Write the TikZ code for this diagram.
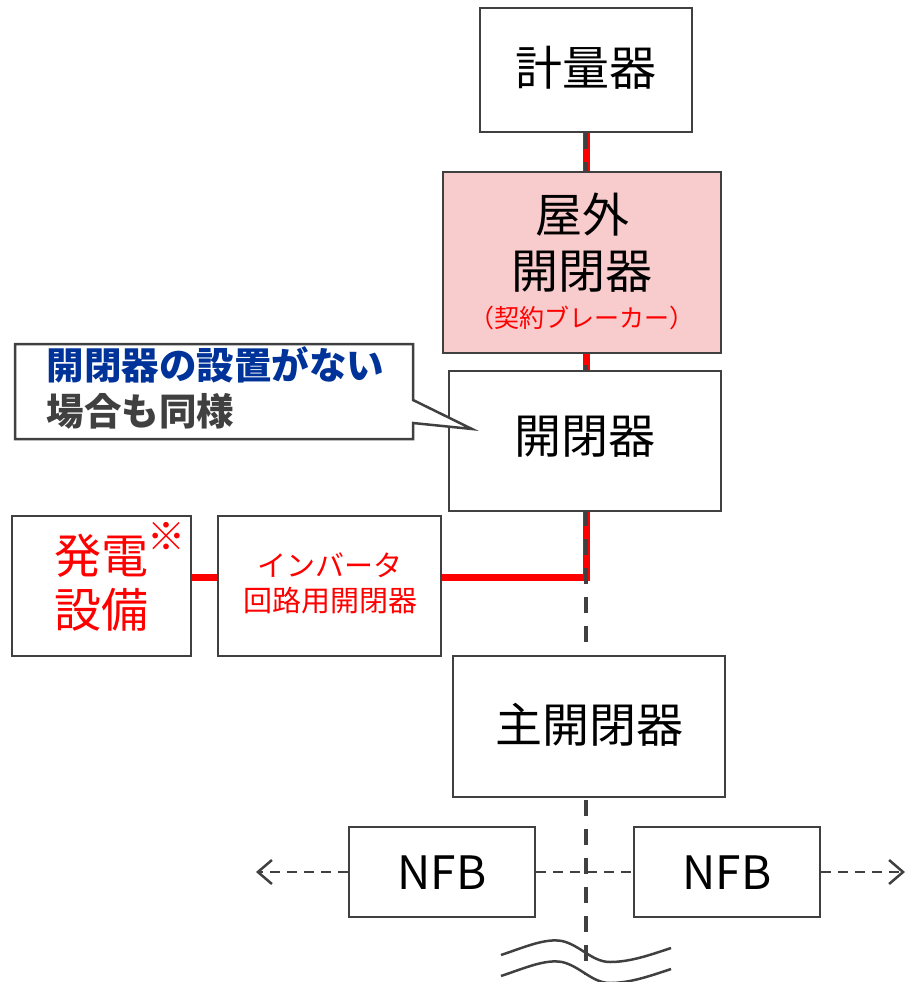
\documentclass[tikz,border=0pt]{standalone}
\usepackage{fontspec}
\setmainfont{Noto Sans CJK JP}
\usetikzlibrary{arrows.meta}
\definecolor{bord}{HTML}{404040}
\definecolor{pinkfill}{HTML}{F8CBCC}
\definecolor{cblue}{RGB}{0,51,153}
\definecolor{cred}{RGB}{255,0,0}
\pgfdeclarelayer{bg}
\pgfsetlayers{bg,main}
\tikzset{
  box/.style={draw=bord, line width=2.5pt, fill=white, rectangle, inner sep=0pt},
  bigtxt/.style={font=\fontsize{47}{56}\selectfont, text=black},
  redline/.style={draw=cred, line width=7pt},
  vdash/.style={draw=bord, line width=4pt, dash pattern=on 16pt off 13pt},
  hdash/.style={draw=bord, line width=2.8pt, dash pattern=on 10pt off 7pt},
  wave/.style={draw=bord, line width=2.5pt},
}
\begin{document}
\begin{tikzpicture}[x=1pt,y=-1pt]
\useasboundingbox (0,0) rectangle (907,982);
% boxes
\node[box, minimum width=212pt, minimum height=124pt] (meter) at (586,70) {};
\node[bigtxt] (meterT) at (586,68) {計量器};
\node[box, fill=pinkfill, minimum width=278pt, minimum height=181pt] (outdoor) at (582,262.5) {};
\node[bigtxt] (outT1) at (582,215) {屋外};
\node[bigtxt] (outT2) at (582,272) {開閉器};
\node[font=\fontsize{25}{30}\selectfont, text=cred] (outT3) at (582,318) {（契約ブレーカー）};
\node[box, minimum width=272pt, minimum height=140pt] (sw) at (585,441) {};
\node[bigtxt] (swT) at (585,437) {開閉器};
\node[box, minimum width=179pt, minimum height=140pt] (gen) at (101.5,586) {};
\node[font=\fontsize{47}{56}\selectfont, text=cred] (genT1) at (101,556) {発電};
\node[font=\fontsize{47}{56}\selectfont, text=cred] (genT2) at (101,610) {設備};
\node[font=\fontsize{38}{42}\selectfont\bfseries, text=cred] (genStar) at (166,536) {※};
\node[box, minimum width=223pt, minimum height=140pt] (inv) at (329.5,586) {};
\node[font=\fontsize{29}{34}\selectfont, text=cred] (invT1) at (330,565) {インバータ};
\node[font=\fontsize{29}{34}\selectfont, text=cred] (invT2) at (330,601) {回路用開閉器};
\node[box, minimum width=272pt, minimum height=141pt] (main) at (589,726.5) {};
\node[bigtxt] (mainT) at (589,725) {主開閉器};
\node[box, minimum width=186pt, minimum height=90pt] (nfbL) at (442,872) {};
\node[bigtxt, font=\fontsize{46}{54}\selectfont] (nfbLT) at (442,873) {NFB};
\node[box, minimum width=186pt, minimum height=90pt] (nfbR) at (727,872) {};
\node[bigtxt, font=\fontsize{46}{54}\selectfont] (nfbRT) at (727,873) {NFB};
% callout
\draw[draw=bord, line width=2.5pt, fill=white, line join=miter]
  (15,344) -- (413,344) -- (413,400) -- (472,429) -- (413,423) -- (413,439) -- (15,439) -- cycle;
\node[anchor=west, font=\fontsize{37.5}{44}\selectfont\bfseries, text=cblue] (callT1) at (43,365) {開閉器の設置がない};
\node[anchor=west, font=\fontsize{37.5}{44}\selectfont\bfseries, text=bord] (callT2) at (43,411) {場合も同様};
% coordinates
\coordinate (jn) at (586,577);
\coordinate (bot) at (586,975);
\coordinate (arrL) at (256,872);
\coordinate (arrR) at (905,872);
\begin{pgfonlayer}{bg}
  \fill[white] (0,0) rectangle (907,982);
  \draw[redline] (meter.south) -- (jn) -- (inv.east |- jn);
  \draw[redline] (gen.east |- jn) -- (inv.west |- jn);
  \draw[vdash] (meter.south) -- (bot);
  \draw[hdash] (nfbL.east) -- (nfbR.west);
\end{pgfonlayer}
\draw[hdash, -{Straight Barb[length=14pt,width=24pt,line width=2.5pt]}] (nfbL.west) -- (arrL);
\draw[hdash, -{Straight Barb[length=14pt,width=24pt,line width=2.5pt]}] (nfbR.east) -- (arrR);
% break mark
\draw[wave] (501,955) .. controls (525,947) and (545,938) .. (562,941) .. controls (580,945) and (592,962) .. (610,962) .. controls (630,962) and (650,955) .. (671,948);
\draw[wave] (501,976) .. controls (525,968) and (545,959) .. (562,962) .. controls (580,966) and (592,983) .. (610,983) .. controls (630,983) and (650,976) .. (671,969);
\end{tikzpicture}
\end{document}
